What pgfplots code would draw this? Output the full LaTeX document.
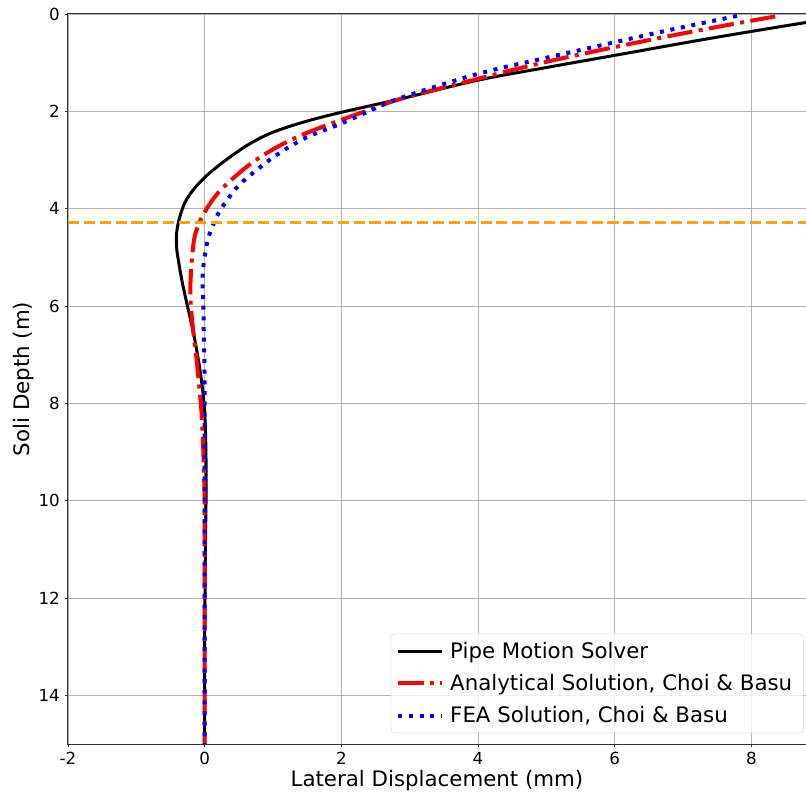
\documentclass[border=0pt]{standalone}
\usepackage{fontspec}
\setmainfont{DejaVu Sans}
\usepackage{pgfplots}
\pgfplotsset{compat=1.18}
\definecolor{mplorange}{HTML}{FFA500}
\definecolor{gridgray}{HTML}{B0B0B0}
\begin{document}
\begin{tikzpicture}
\begin{axis}[
  name=ax,
  scale only axis,
  width=553.5pt, height=547.5pt,
  xmin=-2, xmax=8.8, ymin=0, ymax=15,
  y dir=reverse,
  xtick={-2,0,2,4,6,8},
  ytick={0,2,4,6,8,10,12,14},
  grid=major,
  major grid style={gridgray, line width=0.6pt},
  axis line style={line width=0.75pt, black!80},
  tick align=outside,
  tick pos=left,
  major tick length=2.6pt,
  every tick/.style={black!80, line width=0.6pt},
  /pgf/number format/assume math mode=true,
  ticklabel style={font=\fontsize{12.5}{14}\selectfont},
  xlabel={Lateral Displacement (mm)},
  ylabel={Soli Depth (m)},
  label style={font=\fontsize{16}{19}\selectfont},
  xlabel style={yshift=3pt},
  ylabel style={yshift=-3pt},
  legend style={at={(rel axis cs:0.997,0.015)}, anchor=south east, draw=black!15, rounded corners=3pt, fill=white, fill opacity=0.8, text opacity=1, font=\fontsize{16}{19}\selectfont, inner xsep=4pt, inner ysep=4pt, row sep=6.6pt, nodes={inner xsep=4.5pt}},
  legend cell align=left,
  legend image code/.code={\draw[#1] (0cm,0cm) -- (33pt,0cm);},
  clip=true,
]
\addplot[black, line width=2.25pt, smooth, tension=0.6] coordinates {
(9.6,0.00) (8.82,0.17) (7.4,0.5) (6.0,0.85) (5.0,1.1) (4.0,1.36) (2.88,1.74) (2.0,2.02) (1.45,2.22) (1.0,2.43) (0.68,2.65) (0.42,2.89) (0.2,3.12) (0.0,3.36) (-0.17,3.62) (-0.29,3.88) (-0.37,4.2) (-0.41,4.5) (-0.41,4.8) (-0.38,5.1) (-0.33,5.5) (-0.26,5.95) (-0.18,6.45) (-0.11,6.96) (-0.05,7.5) (-0.01,8.0) (0.01,8.5) (0.02,9.2) (0.02,10) (0.01,11) (0.005,12) (0,13) (0,15)
};
\addlegendentry{Pipe Motion Solver}
\addplot[red, line width=3pt, dash pattern=on 19pt off 4.8pt on 3pt off 4.8pt, smooth, tension=0.6] coordinates {
(8.35,0.05) (7.18,0.35) (6.0,0.68) (4.95,1.0) (4.0,1.33) (2.88,1.74) (2.35,2.0) (1.95,2.2) (1.45,2.47) (1.04,2.75) (0.7,3.05) (0.43,3.36) (0.2,3.67) (0.03,4.0) (-0.08,4.3) (-0.15,4.6) (-0.19,5.1) (-0.21,5.75) (-0.18,6.34) (-0.13,6.96) (-0.08,7.64) (-0.04,8.33) (-0.01,9.42) (0,10.5) (0,15)
};
\addlegendentry{Analytical Solution, Choi \& Basu}
\addplot[blue, line width=3pt, dash pattern=on 3pt off 5pt, smooth, tension=0.6] coordinates {
(7.79,0.04) (6.9,0.3) (6.0,0.58) (5.0,0.9) (4.0,1.23) (2.88,1.72) (2.4,2.0) (2.0,2.25) (1.47,2.55) (1.05,2.9) (0.74,3.23) (0.5,3.52) (0.33,3.82) (0.2,4.1) (0.11,4.38) (0.05,4.62) (0.01,4.9) (-0.02,5.2) (-0.03,5.5) (-0.02,6.0) (-0.01,6.82) (0,8.19) (0,15)
};
\addlegendentry{FEA Solution, Choi \& Basu}
\addplot[mplorange, line width=2.25pt, dash pattern=on 8.3pt off 3.6pt, forget plot] coordinates {(-2,4.28) (8.8,4.28)};
\end{axis}
\pgfresetboundingbox
\path ([xshift=-51pt,yshift=-38.25pt]ax.south west) rectangle ([yshift=10.5pt]ax.north east);
\end{tikzpicture}
\end{document}
